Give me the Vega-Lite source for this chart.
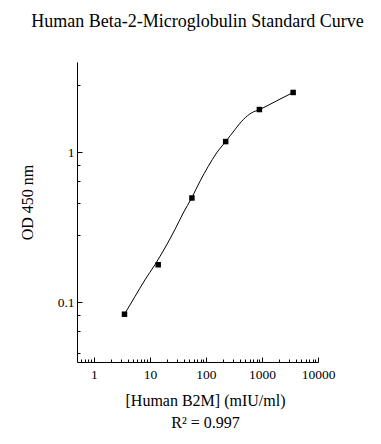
{
  "$schema": "https://vega.github.io/schema/vega-lite/v6.json",
  "width": 241,
  "height": 300,
  "autosize": "none",
  "padding": {"left": 77, "top": 62, "right": 63, "bottom": 82},
  "background": "white",
  "title": {
    "text": "Human Beta-2-Microglobulin Standard Curve",
    "font": "Liberation Serif",
    "fontSize": 18,
    "fontWeight": "normal",
    "color": "black",
    "anchor": "middle",
    "baseline": "alphabetic",
    "offset": 17
  },
  "config": {
    "view": {"stroke": null},
    "axis": {
      "labelFont": "Liberation Serif",
      "titleFont": "Liberation Serif",
      "labelColor": "black",
      "titleColor": "black",
      "domainColor": "black",
      "tickColor": "black",
      "grid": false,
      "titleFontWeight": "normal"
    }
  },
  "datasets": {
    "points": [
      {"conc": 3.52, "od": 0.0833},
      {"conc": 14.06, "od": 0.178},
      {"conc": 56.25, "od": 0.496},
      {"conc": 225, "od": 1.179},
      {"conc": 900, "od": 1.928},
      {"conc": 3600, "od": 2.506}
    ],
    "curve": [
      {"conc": 3.52, "od": 0.0833},
      {"conc": 5.4, "od": 0.109},
      {"conc": 8.14, "od": 0.141},
      {"conc": 12.3, "od": 0.178},
      {"conc": 18.5, "od": 0.23},
      {"conc": 27.9, "od": 0.305},
      {"conc": 39.3, "od": 0.394},
      {"conc": 55.6, "od": 0.496},
      {"conc": 78.1, "od": 0.64},
      {"conc": 110, "od": 0.806},
      {"conc": 155, "od": 0.99},
      {"conc": 225, "od": 1.179},
      {"conc": 330, "od": 1.418},
      {"conc": 464, "od": 1.653},
      {"conc": 655, "od": 1.834},
      {"conc": 910, "od": 1.929},
      {"conc": 1832, "od": 2.204},
      {"conc": 3600, "od": 2.506}
    ]
  },
  "encoding": {
    "x": {
      "field": "conc",
      "type": "quantitative",
      "scale": {"type": "log", "domain": [0.5, 10000], "nice": false},
      "axis": {
        "title": ["[Human B2M] (mIU/ml)", "R² = 0.997"],
        "titleFontSize": 16,
        "titleLineHeight": 22,
        "titlePadding": 10,
        "titleX": 128,
        "labelFontSize": 13.5,
        "labelPadding": 10,
        "values": [0.6, 0.7, 0.8, 0.9, 1, 2, 3, 4, 5, 6, 7, 8, 9, 10, 20, 30, 40, 50, 60, 70, 80, 90, 100, 200, 300, 400, 500, 600, 700, 800, 900, 1000, 2000, 3000, 4000, 5000, 6000, 7000, 8000, 9000, 10000],
        "labelExpr": "datum.value == 1 || datum.value == 10 || datum.value == 100 || datum.value == 1000 || datum.value == 10000 ? format(datum.value, 'd') : ''",
        "tickSize": {"condition": {"test": "datum.value == 1 || datum.value == 10 || datum.value == 100 || datum.value == 1000 || datum.value == 10000", "value": -5}, "value": -3},
        "labelFlush": false,
        "labelOverlap": false
      }
    },
    "y": {
      "field": "od",
      "type": "quantitative",
      "scale": {"type": "log", "domain": [0.04, 4], "nice": false},
      "axis": {
        "title": "OD 450 nm",
        "titleFontSize": 16,
        "titlePadding": 22,
        "titleY": 140,
        "labelFontSize": 13.5,
        "labelPadding": 8,
        "values": [0.046, 0.064, 0.082, 0.1, 0.28, 0.46, 0.64, 0.82, 1, 2.8],
        "labelExpr": "datum.value == 1 ? '1' : datum.value == 0.1 ? '0.1' : ''",
        "tickSize": {"condition": {"test": "datum.value == 1 || datum.value == 0.1", "value": -5}, "value": -3},
        "labelFlush": false,
        "labelOverlap": false
      }
    }
  },
  "layer": [
    {
      "data": {"name": "curve"},
      "mark": {"type": "line", "color": "black", "strokeWidth": 1, "interpolate": "monotone"}
    },
    {
      "data": {"name": "points"},
      "mark": {"type": "point", "shape": "square", "filled": true, "color": "black", "opacity": 1, "size": 30}
    }
  ]
}
